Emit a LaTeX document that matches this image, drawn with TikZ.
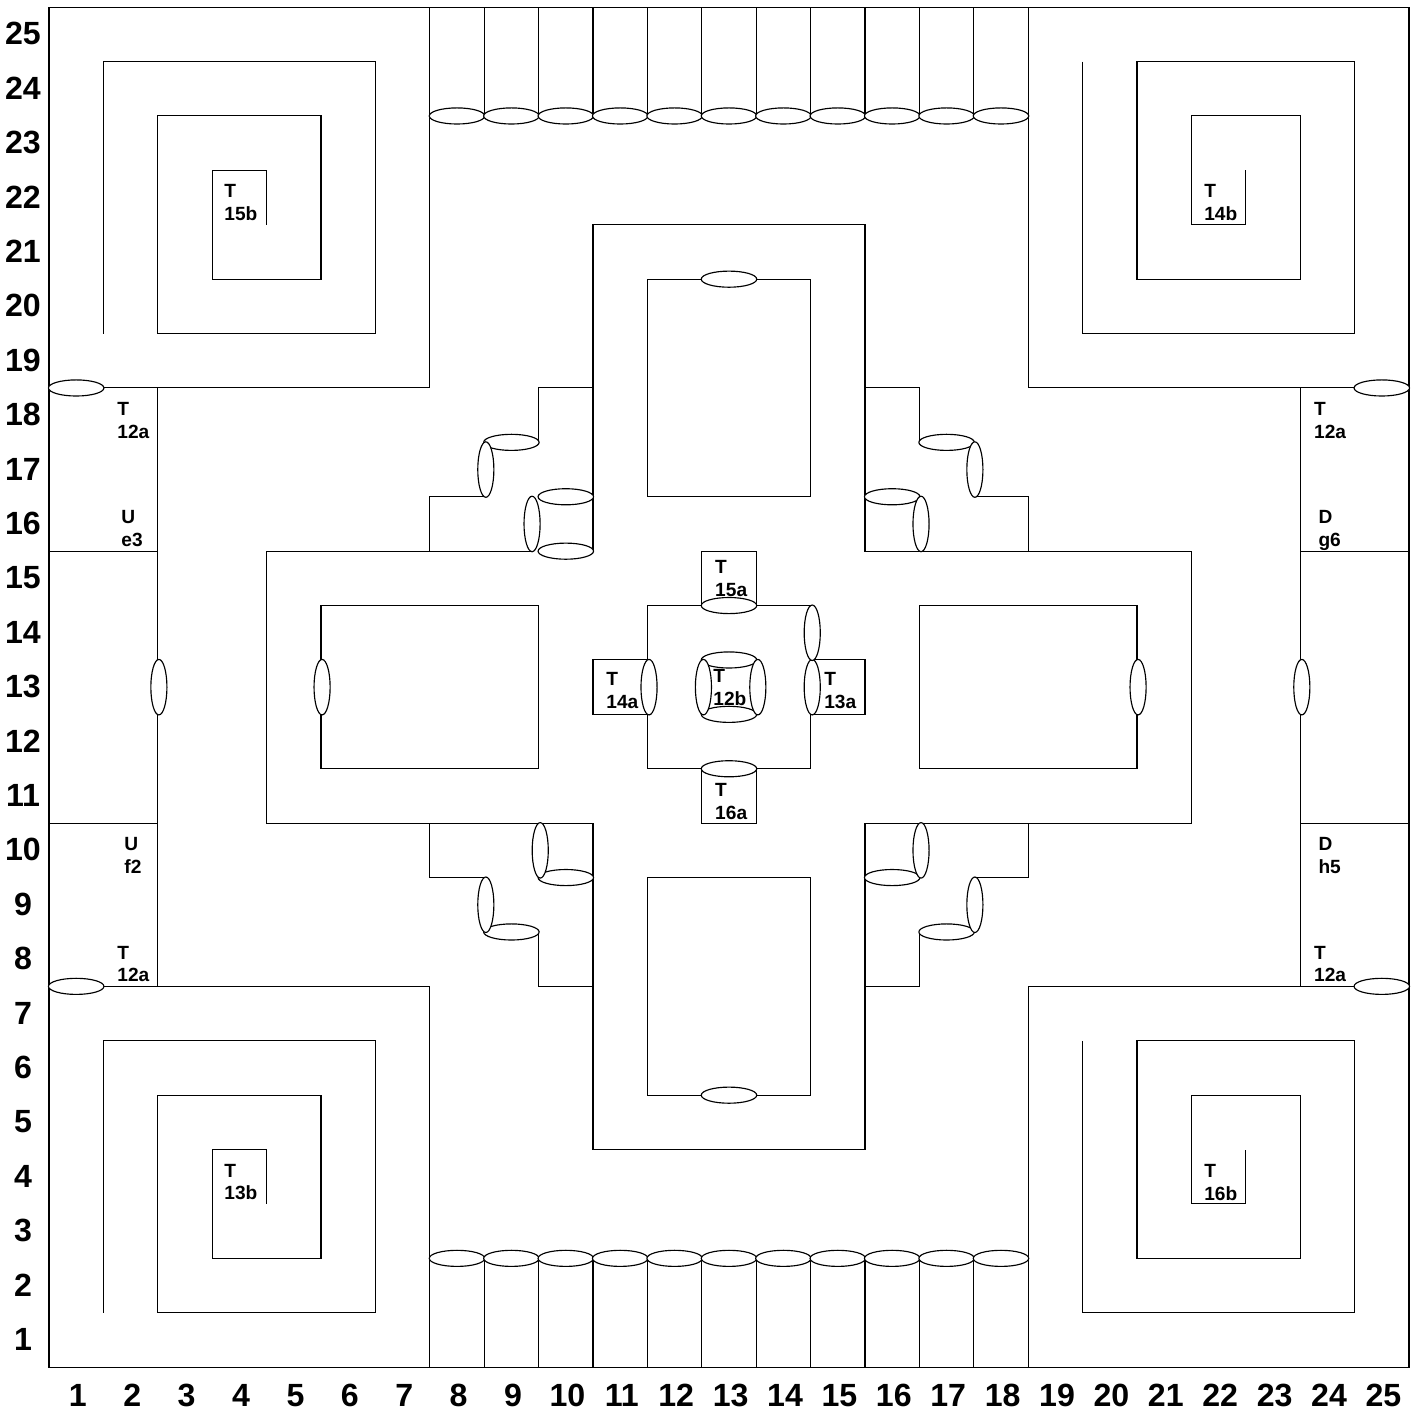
\documentclass[tikz,border=0pt]{standalone}
\usepackage{fontspec}
\setmainfont{Liberation Sans}
\tikzset{
	wire/.style={line width=0.55pt},
	ring/.style={draw=black, fill=white, line width=0.6pt},
	tick/.style={font=\fontsize{16.8}{20}\selectfont\bfseries, inner sep=0pt, text height=12pt, text depth=0pt},
	cell/.style={font=\fontsize{10}{12}\selectfont\bfseries, align=left, anchor=west, inner sep=0pt}
}
\newcommand{\hring}[1]{\draw[ring] (#1) ellipse (0.51 and 0.148);}
\newcommand{\vring}[1]{\draw[ring] (#1) ellipse (0.148 and 0.51);}

\begin{document}
\begin{tikzpicture}
	\useasboundingbox (-0.9007, -0.824) rectangle (25.184, 25.132);

	% Cornice
	\draw[wire] (0, 0) rectangle (25, 25);

	% Angolo in alto a sinistra
	\draw[wire] (1, 18) -- (7, 18) -- (7, 25);
	\draw[wire] (1, 19) -- (1, 24) -- (6, 24) -- (6, 19) -- (2, 19) -- (2, 23) -- (5, 23) -- (5, 20) -- (3, 20) -- (3, 22) -- (4, 22) -- (4, 21);

	% Angolo in alto a destra
	\draw[wire] (24, 18) -- (18, 18) -- (18, 25);
	\draw[wire] (19, 24) -- (19, 19) -- (24, 19) -- (24, 24) -- (20, 24) -- (20, 20) -- (23, 20) -- (23, 23) -- (21, 23) -- (21, 21) -- (22, 21) -- (22, 22);

	% Angolo in basso a sinistra
	\draw[wire] (1, 7) -- (7, 7) -- (7, 0);
	\draw[wire] (1, 1) -- (1, 6) -- (6, 6) -- (6, 1) -- (2, 1) -- (2, 5) -- (5, 5) -- (5, 2) -- (3, 2) -- (3, 4) -- (4, 4) -- (4, 3);

	% Angolo in basso a destra
	\draw[wire] (24, 7) -- (18, 7) -- (18, 0);
	\draw[wire] (19, 6) -- (19, 1) -- (24, 1) -- (24, 6) -- (20, 6) -- (20, 2) -- (23, 2) -- (23, 5) -- (21, 5) -- (21, 3) -- (22, 3) -- (22, 4);

	% Fasce laterali
	\draw[wire] (2, 18) -- (2, 7);
	\draw[wire] (0, 15) -- (2, 15);
	\draw[wire] (0, 10) -- (2, 10);
	\draw[wire] (23, 18) -- (23, 7);
	\draw[wire] (23, 15) -- (25, 15);
	\draw[wire] (23, 10) -- (25, 10);

	% Righe verticali in alto
	\draw[wire] (8, 25) -- (8, 23);
	\draw[wire] (9, 25) -- (9, 23);
	\draw[wire] (10, 25) -- (10, 23);
	\draw[wire] (11, 25) -- (11, 23);
	\draw[wire] (12, 25) -- (12, 23);
	\draw[wire] (13, 25) -- (13, 23);
	\draw[wire] (14, 25) -- (14, 23);
	\draw[wire] (15, 25) -- (15, 23);
	\draw[wire] (16, 25) -- (16, 23);
	\draw[wire] (17, 25) -- (17, 23);

	% Righe verticali in basso
	\draw[wire] (8, 0) -- (8, 2);
	\draw[wire] (9, 0) -- (9, 2);
	\draw[wire] (10, 0) -- (10, 2);
	\draw[wire] (11, 0) -- (11, 2);
	\draw[wire] (12, 0) -- (12, 2);
	\draw[wire] (13, 0) -- (13, 2);
	\draw[wire] (14, 0) -- (14, 2);
	\draw[wire] (15, 0) -- (15, 2);
	\draw[wire] (16, 0) -- (16, 2);
	\draw[wire] (17, 0) -- (17, 2);

	% Croce centrale
	\draw[wire] (8.88, 15) -- (4, 15) -- (4, 10) -- (10, 10) -- (10, 4) -- (15, 4) -- (15, 10) -- (21, 10) -- (21, 15) -- (15, 15) -- (15, 21) -- (10, 21) -- (10, 15);
	\draw[wire] (7, 15) -- (7, 16) -- (8, 16);
	\draw[wire] (8.5, 17) -- (9, 17) -- (9, 18) -- (10, 18);
	\draw[wire] (15, 18) -- (16, 18) -- (16, 17);
	\draw[wire] (17, 16) -- (18, 16) -- (18, 15);
	\draw[wire] (7, 10) -- (7, 9) -- (8, 9);
	\draw[wire] (9, 8) -- (9, 7) -- (10, 7);
	\draw[wire] (18, 10) -- (18, 9) -- (17, 9);
	\draw[wire] (16, 8) -- (16, 7) -- (15, 7);

	% Rettangoli interni
	\draw[wire] (11, 16) rectangle (14, 20);
	\draw[wire] (11, 5) rectangle (14, 9);
	\draw[wire] (5, 11) rectangle (9, 14);
	\draw[wire] (16, 11) rectangle (20, 14);
	\draw[wire] (11, 11) rectangle (14, 14);

	% Caselle attorno al centro
	\draw[wire] (12, 14) rectangle (13, 15);
	\draw[wire] (12, 10) rectangle (13, 11);
	\draw[wire] (10, 12) rectangle (11, 13);
	\draw[wire] (14, 12) rectangle (15, 13);

	% Anelli orizzontali
	\hring{7.5, 23} \hring{8.5, 23} \hring{9.5, 23} \hring{10.5, 23} \hring{11.5, 23} \hring{12.5, 23}
	\hring{13.5, 23} \hring{14.5, 23} \hring{15.5, 23} \hring{16.5, 23} \hring{17.5, 23}
	\hring{7.5, 2} \hring{8.5, 2} \hring{9.5, 2} \hring{10.5, 2} \hring{11.5, 2} \hring{12.5, 2}
	\hring{13.5, 2} \hring{14.5, 2} \hring{15.5, 2} \hring{16.5, 2} \hring{17.5, 2}
	\hring{0.5, 18} \hring{24.5, 18} \hring{0.5, 7} \hring{24.5, 7}
	\hring{12.5, 20} \hring{12.5, 5} \hring{12.5, 14} \hring{12.5, 11}
	\hring{12.5, 13} \hring{12.5, 12}
	\hring{8.5, 17} \hring{9.5, 16} \hring{9.5, 15}
	\hring{16.5, 17} \hring{15.5, 16}
	\hring{9.5, 9} \hring{8.5, 8}
	\hring{15.5, 9} \hring{16.5, 8}

	% Anelli verticali
	\vring{2.02, 12.5} \vring{23.03, 12.5} \vring{5.02, 12.5} \vring{20.02, 12.5}
	\vring{11.03, 12.5} \vring{14.03, 12.5} \vring{14.03, 13.5}
	\vring{12.03, 12.5} \vring{13.03, 12.5}
	\vring{8.03, 16.5} \vring{8.88, 15.5}
	\vring{17.02, 16.5} \vring{16.03, 15.5}
	\vring{8.03, 8.5} \vring{9.03, 9.5}
	\vring{17.02, 8.5} \vring{16.03, 9.5}

	% Etichette delle caselle
	\node[cell] (t15b) at (3.217, 21.415) {T\\15b};
	\node[cell] (t14b) at (21.23, 21.415) {T\\14b};
	\node[cell] (t13b) at (3.217, 3.403) {T\\13b};
	\node[cell] (t16b) at (21.23, 3.403) {T\\16b};
	\node[cell] (t12nw) at (1.25, 17.41) {T\\12a};
	\node[cell] (t12ne) at (23.25, 17.41) {T\\12a};
	\node[cell] (t12sw) at (1.25, 7.411) {T\\12a};
	\node[cell] (t12se) at (23.25, 7.411) {T\\12a};
	\node[cell] (ue3) at (1.324, 15.415) {U\\e3};
	\node[cell] (uf2) at (1.379, 9.405) {U\\f2};
	\node[cell] (dg6) at (23.33, 15.385) {D\\g6};
	\node[cell] (dh5) at (23.33, 9.405) {D\\h5};
	\node[cell] (t15a) at (12.24, 14.495) {T\\15a};
	\node[cell] (t16a) at (12.24, 10.395) {T\\16a};
	\node[cell] (t14a) at (10.24, 12.43) {T\\14a};
	\node[cell] (t13a) at (14.246, 12.43) {T\\13a};
	\node[cell] (t12b) at (12.206, 12.495) {T\\12b};

	% Numeri in basso
	\node[tick] (x1) at (0.53, -0.503) {1};
	\node[tick] (x2) at (1.53, -0.503) {2};
	\node[tick] (x3) at (2.53, -0.503) {3};
	\node[tick] (x4) at (3.53, -0.503) {4};
	\node[tick] (x5) at (4.53, -0.503) {5};
	\node[tick] (x6) at (5.53, -0.503) {6};
	\node[tick] (x7) at (6.53, -0.503) {7};
	\node[tick] (x8) at (7.53, -0.503) {8};
	\node[tick] (x9) at (8.53, -0.503) {9};
	\node[tick] (x10) at (9.53, -0.503) {10};
	\node[tick] (x11) at (10.53, -0.503) {11};
	\node[tick] (x12) at (11.53, -0.503) {12};
	\node[tick] (x13) at (12.53, -0.503) {13};
	\node[tick] (x14) at (13.53, -0.503) {14};
	\node[tick] (x15) at (14.53, -0.503) {15};
	\node[tick] (x16) at (15.53, -0.503) {16};
	\node[tick] (x17) at (16.53, -0.503) {17};
	\node[tick] (x18) at (17.53, -0.503) {18};
	\node[tick] (x19) at (18.53, -0.503) {19};
	\node[tick] (x20) at (19.53, -0.503) {20};
	\node[tick] (x21) at (20.53, -0.503) {21};
	\node[tick] (x22) at (21.53, -0.503) {22};
	\node[tick] (x23) at (22.53, -0.503) {23};
	\node[tick] (x24) at (23.53, -0.503) {24};
	\node[tick] (x25) at (24.53, -0.503) {25};

	% Numeri a sinistra
	\node[tick] (y1) at (-0.478, 0.516) {1};
	\node[tick] (y2) at (-0.478, 1.516) {2};
	\node[tick] (y3) at (-0.478, 2.516) {3};
	\node[tick] (y4) at (-0.478, 3.516) {4};
	\node[tick] (y5) at (-0.478, 4.516) {5};
	\node[tick] (y6) at (-0.478, 5.516) {6};
	\node[tick] (y7) at (-0.478, 6.516) {7};
	\node[tick] (y8) at (-0.478, 7.516) {8};
	\node[tick] (y9) at (-0.478, 8.516) {9};
	\node[tick] (y10) at (-0.478, 9.516) {10};
	\node[tick] (y11) at (-0.478, 10.516) {11};
	\node[tick] (y12) at (-0.478, 11.516) {12};
	\node[tick] (y13) at (-0.478, 12.516) {13};
	\node[tick] (y14) at (-0.478, 13.516) {14};
	\node[tick] (y15) at (-0.478, 14.516) {15};
	\node[tick] (y16) at (-0.478, 15.516) {16};
	\node[tick] (y17) at (-0.478, 16.516) {17};
	\node[tick] (y18) at (-0.478, 17.516) {18};
	\node[tick] (y19) at (-0.478, 18.516) {19};
	\node[tick] (y20) at (-0.478, 19.516) {20};
	\node[tick] (y21) at (-0.478, 20.516) {21};
	\node[tick] (y22) at (-0.478, 21.516) {22};
	\node[tick] (y23) at (-0.478, 22.516) {23};
	\node[tick] (y24) at (-0.478, 23.516) {24};
	\node[tick] (y25) at (-0.478, 24.516) {25};
\end{tikzpicture}
\end{document}
